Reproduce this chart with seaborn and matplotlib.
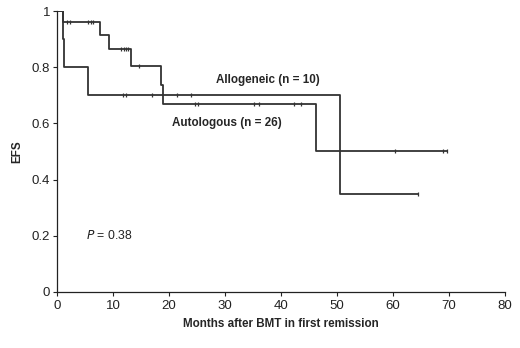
import numpy as np
import pandas as pd
import matplotlib
matplotlib.use("Agg")
import matplotlib.pyplot as plt
import seaborn as sns

# step curves (time in months, EFS)
allo_t = [0, 1.0, 1.2, 5.6, 50.5, 64.4]
allo_s = [1.0, 0.90, 0.80, 0.70, 0.35, 0.35]
allo_cens = [11.8, 12.4, 16.9, 21.4, 23.9, 64.4]

auto_t = [0, 1.0, 7.6, 9.2, 13.3, 18.5, 19.0, 46.2, 69.6]
auto_s = [1.0, 0.962, 0.914, 0.866, 0.804, 0.737, 0.670, 0.503, 0.503]
auto_cens = [1.8, 2.4, 5.5, 6.0, 6.4, 11.4, 11.9, 12.3, 12.7, 14.6,
             24.6, 25.1, 35.2, 36.0, 42.3, 43.5, 60.4, 68.9, 69.6]

x_ticks = [0, 10, 20, 30, 40, 50, 60, 70, 80]
y_ticks = [0, 0.2, 0.4, 0.6, 0.8, 1]
y_labels = ["0", "0.2", "0.4", "0.6", "0.8", "1"]

sns.set_style("ticks")
plt.rcParams['font.family'] = ['Liberation Sans', 'DejaVu Sans']

LINE = "#333333"


def step_value(times, surv, t):
    idx = np.searchsorted(times, t, side="right") - 1
    return np.asarray(surv)[idx]


fig = plt.figure(figsize=(5.2, 3.48), dpi=100)
ax = fig.add_axes([0.1096, 0.161, 0.8615, 0.807])

for times, surv, cens in [(allo_t, allo_s, allo_cens), (auto_t, auto_s, auto_cens)]:
    df = pd.DataFrame({"t": times, "s": surv})
    sns.lineplot(data=df, x="t", y="s", ax=ax, estimator=None, sort=False,
                 drawstyle="steps-post", color=LINE, linewidth=1.3)
    cdf = pd.DataFrame({"t": cens, "s": [step_value(times, surv, c) for c in cens]})
    sns.scatterplot(data=cdf, x="t", y="s", ax=ax, marker="|", s=10,
                    color=LINE, linewidth=0.9, zorder=3)

ax.set_xlim(0, 80)
ax.set_ylim(0, 1)
ax.set_xticks(x_ticks)
ax.set_yticks(y_ticks)
ax.set_yticklabels(y_labels)
ax.tick_params(labelsize=9.5, length=3, width=0.8, colors="#222222", pad=2)
ax.tick_params(axis="x", pad=3)
for side in ["top", "right"]:
    ax.spines[side].set_visible(False)
for side in ["left", "bottom"]:
    ax.spines[side].set_color("#222222")
    ax.spines[side].set_linewidth(0.9)

ax.set_xlabel("Months after BMT in first remission", fontsize=8.4, fontweight="bold", labelpad=4)
ax.set_ylabel("EFS", fontsize=8.4, fontweight="bold", labelpad=6)

ax.text(37.7, 0.755, "Allogeneic (n = 10)", fontsize=8.4, fontweight="bold", ha="center", va="center")
ax.text(30.4, 0.603, "Autologous (n = 26)", fontsize=8.4, fontweight="bold", ha="center", va="center")
ax.text(5.2, 0.2, "$\\it{P}$ = 0.38", fontsize=8.8, ha="left", va="center", color="#222222")

fig.savefig("out.png", dpi=100)
